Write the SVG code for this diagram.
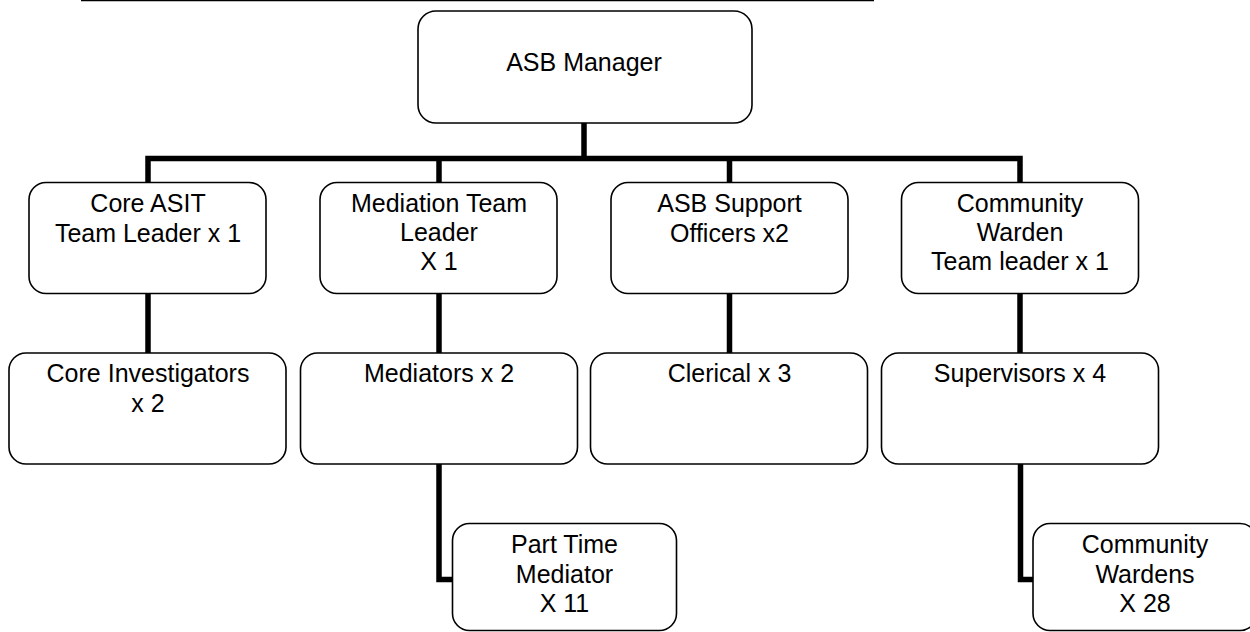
<svg xmlns="http://www.w3.org/2000/svg" width="1250" height="632" viewBox="0 0 1250 632">
<style>
.box{fill:#fff;stroke:#000;stroke-width:1.6}
.t{font-family:"Liberation Sans",Arial,sans-serif;font-size:25px;fill:#000;text-anchor:middle}
.c{fill:none;stroke:#000;stroke-width:5.5;stroke-linejoin:miter}
</style>
<rect width="1250" height="632" fill="#fff"/>
<line x1="81" y1="0.5" x2="874" y2="0.5" stroke="#000" stroke-width="1.5"/>
<g id="connectors">
<path class="c" d="M584 123V158.5M148 182V158.5H1020V182M439 158.5V182M729.5 158.5V182"/>
<path class="c" d="M148 293V353M439 293V353M729.5 293V353M1020 293V353"/>
<path class="c" d="M439 464V579.5H453M1020.5 464V579.5H1034"/>
</g>
<g id="asb-manager"><rect class="box" x="418" y="11" width="334" height="112" rx="18"/><text class="t" x="584" y="71">ASB Manager</text></g>
<g id="core-asit"><rect class="box" x="29" y="182.5" width="237" height="111" rx="17"/><text class="t" x="148" y="212">Core ASIT</text><text class="t" x="148" y="241.5">Team Leader x 1</text></g>
<g id="mediation-tl"><rect class="box" x="320" y="182.5" width="237" height="111" rx="17"/><text class="t" x="439" y="212">Mediation Team</text><text class="t" x="439" y="241">Leader</text><text class="t" x="439" y="269.5">X 1</text></g>
<g id="asb-support"><rect class="box" x="611" y="182.5" width="237" height="111" rx="17"/><text class="t" x="729.5" y="212">ASB Support</text><text class="t" x="729.5" y="241.5">Officers x2</text></g>
<g id="community-warden-tl"><rect class="box" x="901.5" y="182.5" width="237" height="111" rx="17"/><text class="t" x="1020" y="212">Community</text><text class="t" x="1020" y="241">Warden</text><text class="t" x="1020" y="269.5">Team leader x 1</text></g>
<g id="core-investigators"><rect class="box" x="9" y="353" width="277" height="111" rx="17"/><text class="t" x="148" y="382">Core Investigators</text><text class="t" x="148" y="411.5">x 2</text></g>
<g id="mediators"><rect class="box" x="300.5" y="353" width="277" height="111" rx="17"/><text class="t" x="439" y="382">Mediators x 2</text></g>
<g id="clerical"><rect class="box" x="590.5" y="353" width="277" height="111" rx="17"/><text class="t" x="729.5" y="382">Clerical x 3</text></g>
<g id="supervisors"><rect class="box" x="881.5" y="353" width="277" height="111" rx="17"/><text class="t" x="1020" y="382">Supervisors x 4</text></g>
<g id="part-time-mediator"><rect class="box" x="452.5" y="523.5" width="224" height="107" rx="17"/><text class="t" x="564.5" y="552.5">Part Time</text><text class="t" x="564.5" y="582.5">Mediator</text><text class="t" x="564.5" y="611.5">X 11</text></g>
<g id="community-wardens"><rect class="box" x="1033" y="523.5" width="224" height="107" rx="17"/><text class="t" x="1145" y="552.5">Community</text><text class="t" x="1145" y="582.5">Wardens</text><text class="t" x="1145" y="611.5">X 28</text></g>
</svg>
